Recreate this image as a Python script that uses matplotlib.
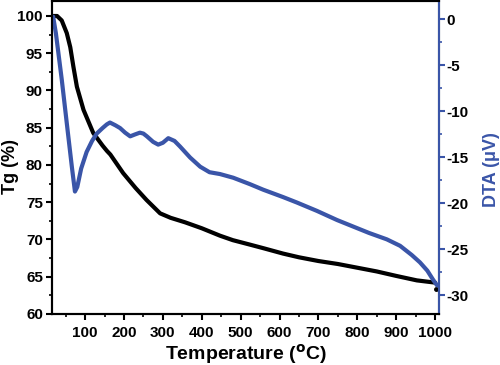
import matplotlib.pyplot as plt
from matplotlib.ticker import MultipleLocator

plt.rcParams['font.family'] = ['Liberation Sans', 'DejaVu Sans']
plt.rcParams['font.weight'] = 'bold'
plt.rcParams['axes.unicode_minus'] = False

# TG curve (mass %)
tg_temp = [18, 28, 40, 53, 62, 70, 79, 96, 121, 145, 156, 165, 198, 230, 258, 293,
           320, 357, 400, 447, 480, 524, 560, 609, 650, 700, 750, 800, 850, 900,
           953, 1000]
tg_mass = [100.0, 100.0, 99.4, 97.7, 95.8, 93.2, 90.5, 87.4, 84.3, 82.6, 81.9, 81.4,
           78.9, 76.9, 75.3, 73.5, 72.9, 72.3, 71.5, 70.5, 69.9, 69.3, 68.8, 68.1,
           67.6, 67.1, 66.7, 66.2, 65.7, 65.1, 64.5, 64.2]
tg_end_temp = [1003]
tg_end_mass = [63.4]

# DTA curve (microvolts)
dta_temp = [18, 25, 40, 55, 66, 74, 80, 90, 104, 118, 130, 145, 156, 164, 178, 190,
            203, 216, 228, 241, 250, 259, 275, 288, 300, 314, 330, 344, 370, 396,
            420, 447, 481, 524, 558, 609, 645, 696, 748, 789, 830, 876, 910, 940,
            961, 980, 995, 1005]
dta_val = [0.3, -1.5, -6.5, -12.0, -16.0, -18.7, -18.2, -16.2, -14.4, -13.2, -12.4,
           -11.8, -11.4, -11.2, -11.5, -11.8, -12.3, -12.7, -12.5, -12.3, -12.4,
           -12.7, -13.3, -13.6, -13.4, -12.9, -13.2, -13.8, -15.0, -16.0, -16.6,
           -16.8, -17.2, -17.9, -18.5, -19.3, -19.9, -20.8, -21.8, -22.5, -23.2,
           -23.9, -24.6, -25.6, -26.4, -27.3, -28.3, -28.9]

blue = '#3a55a8'

fig = plt.figure(figsize=(5, 3.65), dpi=100)
ax = fig.add_axes([0.104, 0.140, 0.774, 0.857])
ax2 = ax.twinx()

ax.plot(tg_temp, tg_mass, color='black', lw=3.0, solid_capstyle='round', zorder=3)
ax.plot(tg_end_temp, tg_end_mass, 'o', color='black', ms=2.5)
ax2.plot(dta_temp, dta_val, color=blue, lw=3.0, solid_capstyle='round')

ax.set_xlim(15, 1010)
ax.set_ylim(60, 102)
ax2.set_ylim(-32, 2)

ax.xaxis.set_major_locator(MultipleLocator(100))
ax.xaxis.set_minor_locator(MultipleLocator(50))
ax.yaxis.set_major_locator(MultipleLocator(5))
ax.yaxis.set_minor_locator(MultipleLocator(2.5))
ax2.yaxis.set_major_locator(MultipleLocator(5))
ax2.yaxis.set_minor_locator(MultipleLocator(2.5))

for a in (ax, ax2):
    for s in a.spines.values():
        s.set_linewidth(1.5)
ax2.spines['right'].set_color(blue)

ax.tick_params(which='major', direction='out', length=4, width=1.5, labelsize=11)
ax.tick_params(which='minor', direction='out', length=2.5, width=1.2)
ax.tick_params(axis='x', pad=5)
ax.tick_params(axis='y', pad=2.5)
ax2.tick_params(which='major', direction='out', length=4, width=1.5, colors=blue,
                labelcolor='black', labelsize=11, pad=1)
ax2.tick_params(which='minor', direction='out', length=2.5, width=1.2, colors=blue)

for lab in ax.get_xticklabels() + ax.get_yticklabels() + ax2.get_yticklabels():
    lab.set_fontweight('bold')

ax.set_xlabel('Temperature ($\\mathbf{^{o}}$C)', fontsize=14, fontweight='bold', labelpad=1)
ax.set_ylabel('Tg (%)', fontsize=13, fontweight='bold')
ax.yaxis.set_label_coords(-0.085, 0.47)
# right axis label placed in figure coordinates
fig.text(0.982, 0.535, 'DTA (\u03bcV)', rotation=90, ha='center', va='center',
         fontsize=13, fontweight='bold', color=blue)

fig.savefig('out.png', dpi=100)
